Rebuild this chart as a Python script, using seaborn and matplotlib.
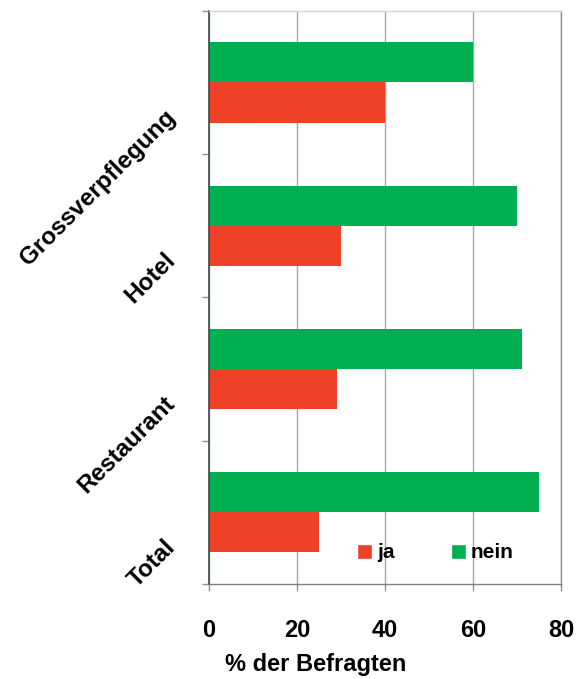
import matplotlib
matplotlib.use("Agg")
import matplotlib.pyplot as plt
import matplotlib.transforms as mtransforms
from matplotlib.patches import Patch
import seaborn as sns
import pandas as pd

# Survey answers per business type (percent of respondents)
categories = ["Grossverpflegung", "Hotel", "Restaurant", "Total"]
ja_values = [40, 30, 29, 25]
nein_values = [60, 70, 71, 75]
x_ticks = [0, 20, 40, 60, 80]

colors = {"ja": "#EE4128", "nein": "#00B050"}

df = pd.DataFrame({
    "Kategorie": categories * 2,
    "Antwort": ["nein"] * len(categories) + ["ja"] * len(categories),
    "Prozent": nein_values + ja_values,
})

sns.set_theme(style="white")
plt.rcParams["font.family"] = ["Liberation Sans", "DejaVu Sans"]
plt.rcParams["font.weight"] = "bold"
plt.rcParams["text.color"] = "black"
plt.rcParams["axes.labelcolor"] = "black"
plt.rcParams["xtick.labelcolor"] = "black"
plt.rcParams["ytick.labelcolor"] = "black"

fig = plt.figure(figsize=(5.87, 6.79), dpi=100)
ax = fig.add_axes([0.356, 0.140, 0.600, 0.844])

sns.barplot(
    data=df, y="Kategorie", x="Prozent", hue="Antwort",
    order=categories, hue_order=["nein", "ja"], palette=colors,
    orient="h", width=0.56, saturation=1, ax=ax, legend=False,
    linewidth=0,
)

ax.set_xlim(0, 80)
ax.set_ylim(len(categories) - 0.5, -0.5)
ax.set_xticks(x_ticks)
ax.set_xticklabels([str(t) for t in x_ticks], fontsize=17, fontweight="bold", color="black")
ax.set_axisbelow(True)
ax.xaxis.grid(True, color="#a8a8a8", linewidth=1)
ax.yaxis.grid(False)

# tick marks sit between the categories, labels sit on the categories
ax.set_yticks([i - 0.5 for i in range(len(categories) + 1)], minor=True)
ax.tick_params(axis="y", which="minor", left=True, length=5, color="#909090", width=1)
ax.tick_params(axis="y", which="major", left=True, length=0, pad=27)
ax.tick_params(axis="x", which="major", bottom=True, length=5, color="#909090", width=1, pad=20)

ax.set_yticks(range(len(categories)))
ax.set_yticklabels(categories, fontsize=17.5, fontweight="bold", color="black")
shift = mtransforms.ScaledTranslation(0, -31 / 100, fig.dpi_scale_trans)
for lab in ax.get_yticklabels():
    lab.set_rotation(45)
    lab.set_rotation_mode("anchor")
    lab.set_ha("right")
    lab.set_va("center")
    lab.set_transform(lab.get_transform() + shift)

ax.set_ylabel("")
ax.set_xlabel("% der Befragten", fontsize=17, fontweight="bold", color="black")
ax.xaxis.set_label_coords(0.304, -0.141)
ax.xaxis.label.set_va("center")

for side, col in {"top": "#d4d4d4", "right": "#909090", "bottom": "#808080", "left": "#3c4a48"}.items():
    ax.spines[side].set_visible(True)
    ax.spines[side].set_color(col)
    ax.spines[side].set_linewidth(1.2 if side == "left" else 1)

handles = [Patch(facecolor=colors["ja"], label="ja"), Patch(facecolor=colors["nein"], label="nein")]
ax.legend(
    handles=handles, ncol=2, frameon=False, loc="center left",
    bbox_to_anchor=(0.42, 0.054), prop={"size": 15, "weight": "bold"},
    handlelength=0.72, handleheight=0.72, handletextpad=0.25, columnspacing=2.7,
    borderaxespad=0, borderpad=0, labelcolor="black",
)

fig.savefig("out.png", dpi=100)
